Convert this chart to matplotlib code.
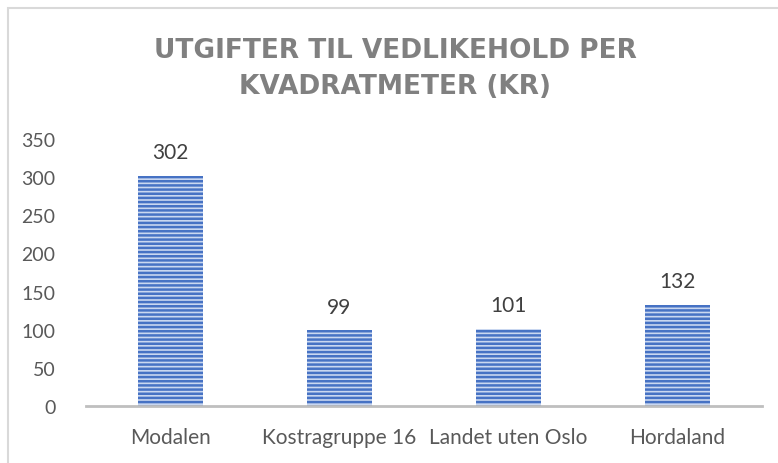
import matplotlib
matplotlib.use("Agg")
import matplotlib.pyplot as plt
from matplotlib.patches import Rectangle

categories = ["Modalen", "Kostragruppe 16", "Landet uten Oslo", "Hordaland"]
values = [302, 99, 101, 132]
yticks = [0, 50, 100, 150, 200, 250, 300, 350]
title = "UTGIFTER TIL VEDLIKEHOLD PER\nKVADRATMETER (KR)"

W, H = 778, 464
plt.rcParams['hatch.linewidth'] = 1.8
plt.rcParams['font.family'] = ['Lato', 'DejaVu Sans']

fig = plt.figure(figsize=(W / 100, H / 100), dpi=100)
fig.patch.set_facecolor('white')

# outer chart border
fig.add_artist(Rectangle((8 / W, -0.05), 1.2, 1 - 9 / H + 0.05, transform=fig.transFigure,
                         fill=False, edgecolor='#d9d9d9', linewidth=1.5))

ax = fig.add_axes([86 / W, 1 - 407 / H, 676 / W, (407 - 140) / H])
x = range(len(categories))
bars = ax.bar(x, values, width=0.385, color='#c9d7f0', edgecolor='#4672c4',
              hatch='----', linewidth=0)
ax.set_xlim(-0.5, 3.5)
ax.set_ylim(0, 350)
ax.set_yticks(yticks)
ax.set_yticklabels([str(v) for v in yticks])
ax.set_xticks(list(x))
ax.set_xticklabels(categories)
for s in ['top', 'right', 'left']:
    ax.spines[s].set_visible(False)
ax.spines['bottom'].set_color('#bfbfbf')
ax.spines['bottom'].set_linewidth(2)
ax.tick_params(axis='both', length=0, colors='#595959')
ax.tick_params(axis='y', pad=22, labelsize=14)
ax.tick_params(axis='x', pad=15, labelsize=15)

for xi, v in zip(x, values):
    ax.annotate(str(v), (xi, v), xytext=(0, 10), textcoords='offset points',
                ha='center', va='bottom', fontsize=15, color='#404040')

fig.text(0.508, 1 - 69 / H, title, ha='center', va='center', fontsize=19,
         fontweight='bold', color='#808080', linespacing=1.45,
         family=['DejaVu Sans'])

fig.savefig('out.png', dpi=100)
